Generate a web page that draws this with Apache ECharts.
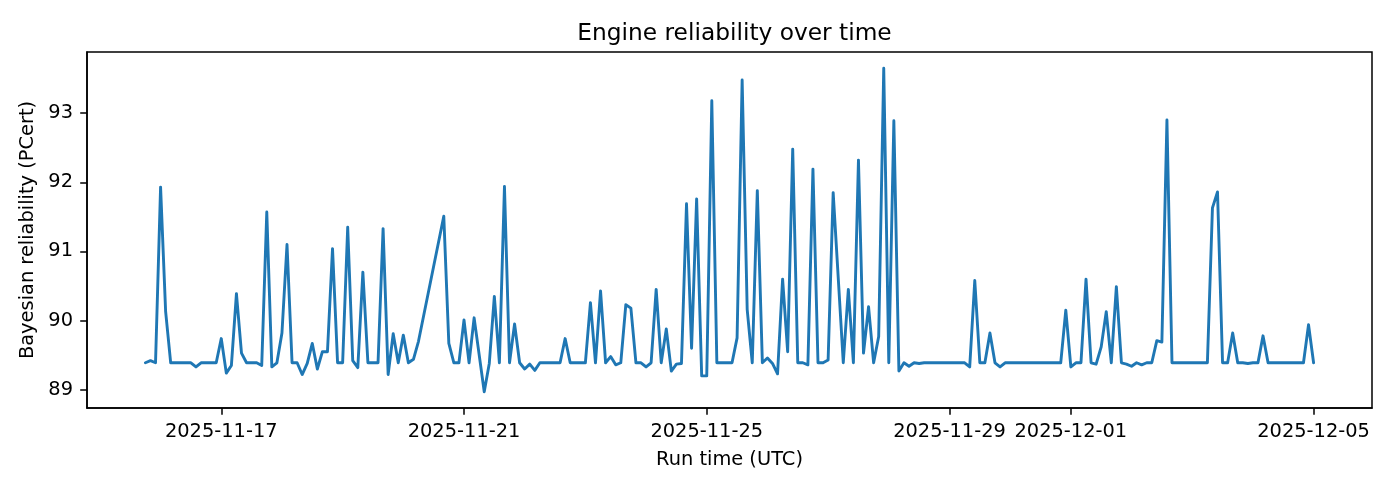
<!DOCTYPE html>
<html>
<head>
<meta charset="utf-8">
<title>Engine reliability over time</title>
<script src="https://cdn.jsdelivr.net/npm/echarts@6.0.0/dist/echarts.min.js"></script>
<style>
  html, body { margin: 0; padding: 0; background: #fff; }
  #chart { width: 1400px; height: 490px; }
</style>
</head>
<body>
<div id="chart"></div>
<script>
// ---- data ----
const runTimes = [
  '2025-11-15T18:00Z','2025-11-15T20:00Z','2025-11-15T22:00Z',
  '2025-11-16T00:00Z','2025-11-16T02:00Z','2025-11-16T04:00Z','2025-11-16T06:00Z','2025-11-16T08:00Z','2025-11-16T10:00Z','2025-11-16T12:00Z','2025-11-16T14:00Z','2025-11-16T16:00Z','2025-11-16T18:00Z','2025-11-16T20:00Z','2025-11-16T22:00Z',
  '2025-11-17T00:00Z','2025-11-17T02:00Z','2025-11-17T04:00Z','2025-11-17T06:00Z','2025-11-17T08:00Z','2025-11-17T10:00Z','2025-11-17T12:00Z','2025-11-17T14:00Z','2025-11-17T16:00Z','2025-11-17T18:00Z','2025-11-17T20:00Z','2025-11-17T22:00Z',
  '2025-11-18T00:00Z','2025-11-18T02:00Z','2025-11-18T04:00Z','2025-11-18T06:00Z','2025-11-18T08:00Z','2025-11-18T10:00Z','2025-11-18T12:00Z','2025-11-18T14:00Z','2025-11-18T16:00Z','2025-11-18T18:00Z','2025-11-18T20:00Z','2025-11-18T22:00Z',
  '2025-11-19T00:00Z','2025-11-19T02:00Z','2025-11-19T04:00Z','2025-11-19T06:00Z','2025-11-19T08:00Z','2025-11-19T10:00Z','2025-11-19T12:00Z','2025-11-19T14:00Z','2025-11-19T16:00Z','2025-11-19T18:00Z','2025-11-19T20:00Z','2025-11-19T22:00Z',
  '2025-11-20T00:00Z','2025-11-20T02:00Z','2025-11-20T04:00Z','2025-11-20T06:00Z','2025-11-20T16:00Z','2025-11-20T18:00Z','2025-11-20T20:00Z','2025-11-20T22:00Z',
  '2025-11-21T00:00Z','2025-11-21T02:00Z','2025-11-21T04:00Z','2025-11-21T08:00Z','2025-11-21T10:00Z','2025-11-21T12:00Z','2025-11-21T14:00Z','2025-11-21T16:00Z','2025-11-21T18:00Z','2025-11-21T20:00Z','2025-11-21T22:00Z',
  '2025-11-22T00:00Z','2025-11-22T02:00Z','2025-11-22T04:00Z','2025-11-22T06:00Z','2025-11-22T08:00Z','2025-11-22T10:00Z','2025-11-22T12:00Z','2025-11-22T14:00Z','2025-11-22T16:00Z','2025-11-22T18:00Z','2025-11-22T20:00Z','2025-11-22T22:00Z',
  '2025-11-23T00:00Z','2025-11-23T02:00Z','2025-11-23T04:00Z','2025-11-23T06:00Z','2025-11-23T08:00Z','2025-11-23T10:00Z','2025-11-23T12:00Z','2025-11-23T14:00Z','2025-11-23T16:00Z','2025-11-23T18:00Z','2025-11-23T20:00Z','2025-11-23T22:00Z',
  '2025-11-24T00:00Z','2025-11-24T02:00Z','2025-11-24T04:00Z','2025-11-24T06:00Z','2025-11-24T08:00Z','2025-11-24T10:00Z','2025-11-24T12:00Z','2025-11-24T14:00Z','2025-11-24T16:00Z','2025-11-24T18:00Z','2025-11-24T20:00Z','2025-11-24T22:00Z',
  '2025-11-25T00:00Z','2025-11-25T02:00Z','2025-11-25T04:00Z','2025-11-25T06:00Z','2025-11-25T08:00Z','2025-11-25T10:00Z','2025-11-25T12:00Z','2025-11-25T14:00Z','2025-11-25T16:00Z','2025-11-25T18:00Z','2025-11-25T20:00Z','2025-11-25T22:00Z',
  '2025-11-26T00:00Z','2025-11-26T02:00Z','2025-11-26T04:00Z','2025-11-26T06:00Z','2025-11-26T08:00Z','2025-11-26T10:00Z','2025-11-26T12:00Z','2025-11-26T14:00Z','2025-11-26T16:00Z','2025-11-26T18:00Z','2025-11-26T20:00Z','2025-11-26T22:00Z',
  '2025-11-27T00:00Z','2025-11-27T02:00Z','2025-11-27T06:00Z','2025-11-27T08:00Z','2025-11-27T10:00Z','2025-11-27T12:00Z','2025-11-27T14:00Z','2025-11-27T16:00Z','2025-11-27T18:00Z','2025-11-27T20:00Z','2025-11-27T22:00Z',
  '2025-11-28T00:00Z','2025-11-28T02:00Z','2025-11-28T04:00Z','2025-11-28T06:00Z','2025-11-28T08:00Z','2025-11-28T10:00Z','2025-11-28T12:00Z','2025-11-28T14:00Z','2025-11-28T16:00Z','2025-11-28T18:00Z','2025-11-28T20:00Z','2025-11-28T22:00Z',
  '2025-11-29T00:00Z','2025-11-29T02:00Z','2025-11-29T04:00Z','2025-11-29T06:00Z','2025-11-29T08:00Z','2025-11-29T10:00Z','2025-11-29T12:00Z','2025-11-29T14:00Z','2025-11-29T16:00Z','2025-11-29T18:00Z','2025-11-29T20:00Z','2025-11-29T22:00Z',
  '2025-11-30T00:00Z','2025-11-30T02:00Z','2025-11-30T04:00Z','2025-11-30T06:00Z','2025-11-30T08:00Z','2025-11-30T10:00Z','2025-11-30T12:00Z','2025-11-30T14:00Z','2025-11-30T16:00Z','2025-11-30T18:00Z','2025-11-30T20:00Z','2025-11-30T22:00Z',
  '2025-12-01T00:00Z','2025-12-01T02:00Z','2025-12-01T04:00Z','2025-12-01T06:00Z','2025-12-01T08:00Z','2025-12-01T10:00Z','2025-12-01T12:00Z','2025-12-01T14:00Z','2025-12-01T16:00Z','2025-12-01T18:00Z','2025-12-01T20:00Z','2025-12-01T22:00Z',
  '2025-12-02T00:00Z','2025-12-02T02:00Z','2025-12-02T04:00Z','2025-12-02T06:00Z','2025-12-02T08:00Z','2025-12-02T10:00Z','2025-12-02T12:00Z','2025-12-02T14:00Z','2025-12-02T16:00Z','2025-12-02T18:00Z','2025-12-02T20:00Z','2025-12-02T22:00Z',
  '2025-12-03T00:00Z','2025-12-03T02:00Z','2025-12-03T04:00Z','2025-12-03T06:00Z','2025-12-03T08:00Z','2025-12-03T10:00Z','2025-12-03T12:00Z','2025-12-03T14:00Z','2025-12-03T16:00Z','2025-12-03T18:00Z','2025-12-03T20:00Z','2025-12-03T22:00Z',
  '2025-12-04T00:00Z','2025-12-04T02:00Z','2025-12-04T04:00Z','2025-12-04T06:00Z','2025-12-04T08:00Z','2025-12-04T10:00Z','2025-12-04T12:00Z','2025-12-04T14:00Z','2025-12-04T16:00Z','2025-12-04T18:00Z','2025-12-04T20:00Z','2025-12-04T22:00Z',
  '2025-12-05T00:00Z'
];

const reliability = [
  89.39, 89.42, 89.39,
  91.93, 90.13, 89.39, 89.39, 89.39, 89.39, 89.39, 89.33, 89.39, 89.39, 89.39, 89.39,
  89.74, 89.24, 89.35, 90.39, 89.53, 89.39, 89.39, 89.39, 89.35, 91.57, 89.33, 89.39,
  89.82, 91.10, 89.39, 89.39, 89.22, 89.38, 89.67, 89.30, 89.55, 89.55, 91.04, 89.39,
  89.39, 91.35, 89.42, 89.32, 90.70, 89.39, 89.39, 89.39, 91.33, 89.22, 89.81, 89.39,
  89.79, 89.39, 89.44, 89.70, 91.51, 89.67, 89.39, 89.39,
  90.01, 89.39, 90.04, 88.97, 89.38, 90.35, 89.39, 91.94, 89.39, 89.95, 89.39,
  89.30, 89.37, 89.28, 89.39, 89.39, 89.39, 89.39, 89.39, 89.74, 89.39, 89.39, 89.39,
  89.39, 90.26, 89.39, 90.43, 89.39, 89.48, 89.36, 89.39, 90.23, 90.18, 89.39, 89.39,
  89.33, 89.39, 90.45, 89.39, 89.88, 89.27, 89.37, 89.38, 91.69, 89.60, 91.76, 89.20,
  89.20, 93.18, 89.39, 89.39, 89.39, 89.39, 89.75, 93.48, 90.16, 89.39, 91.88, 89.39,
  89.46, 89.38, 89.23, 90.60, 89.55, 92.48, 89.39, 89.39, 89.36, 92.19, 89.39, 89.39,
  89.43, 91.85, 89.39, 90.45, 89.39, 92.32, 89.53, 90.20, 89.39, 89.77, 93.65,
  89.39, 92.89, 89.27, 89.39, 89.34, 89.39, 89.38, 89.39, 89.39, 89.39, 89.39, 89.39,
  89.39, 89.39, 89.39, 89.39, 89.33, 90.58, 89.39, 89.39, 89.82, 89.39, 89.33, 89.39,
  89.39, 89.39, 89.39, 89.39, 89.39, 89.39, 89.39, 89.39, 89.39, 89.39, 89.39, 90.15,
  89.33, 89.39, 89.39, 90.60, 89.39, 89.37, 89.62, 90.13, 89.39, 90.49, 89.39, 89.37,
  89.34, 89.39, 89.36, 89.39, 89.39, 89.71, 89.69, 92.90, 89.39, 89.39, 89.39, 89.39,
  89.39, 89.39, 89.39, 89.39, 91.63, 91.86, 89.39, 89.39, 89.82, 89.39, 89.39, 89.38,
  89.39, 89.39, 89.78, 89.39, 89.39, 89.39, 89.39, 89.39, 89.39, 89.39, 89.39, 89.94,
  89.39
];

const xTickLabels = ['2025-11-17', '2025-11-21', '2025-11-25', '2025-11-29', '2025-12-01', '2025-12-05'];
const yTicks = [89, 90, 91, 92, 93];

// ---- build chart ----
const times = runTimes.map(t => Date.parse(t));
const seriesData = times.map((t, i) => [t, reliability[i]]);
const xTickValues = xTickLabels.map(d => Date.parse(d + 'T00:00Z'));

// matplotlib-like 5% data margins
const tMin = Math.min(...times), tMax = Math.max(...times);
const vMin = Math.min(...reliability), vMax = Math.max(...reliability);
const tPad = (tMax - tMin) * 0.05, vPad = (vMax - vMin) * 0.05;

const FONT = 'DejaVu Sans';
const chart = echarts.init(document.getElementById('chart'), null, { renderer: 'canvas' });
chart.setOption({
  animation: false,
  backgroundColor: '#ffffff',
  title: {
    text: 'Engine reliability over time',
    left: 729.5,
    top: 17,
    textAlign: 'center',
    textStyle: { fontFamily: FONT, fontSize: 23.3, fontWeight: 'normal', color: '#000' }
  },
  grid: {
    left: 87, right: 28, top: 52, bottom: 82,
    show: true, borderColor: '#000', borderWidth: 1.5, backgroundColor: 'transparent'
  },
  xAxis: {
    type: 'value',
    min: tMin - tPad,
    max: tMax + tPad,
    name: 'Run time (UTC)',
    nameLocation: 'middle',
    nameGap: 42,
    nameTextStyle: { fontFamily: FONT, fontSize: 19.4, color: '#000' },
    axisLine: { show: true, lineStyle: { color: '#000', width: 1.5 } },
    axisTick: { show: true, inside: false, length: 6.8, customValues: xTickValues, lineStyle: { color: '#000', width: 1.5 } },
    axisLabel: {
      customValues: xTickValues,
      hideOverlap: false,
      margin: 14,
      fontFamily: FONT, fontSize: 19.4, color: '#000',
      formatter: v => new Date(v).toISOString().slice(0, 10)
    },
    splitLine: { show: false }
  },
  yAxis: {
    type: 'value',
    min: vMin - vPad,
    max: vMax + vPad,
    name: 'Bayesian reliability (PCert)',
    nameLocation: 'middle',
    nameRotate: 90,
    nameGap: 42,
    nameTextStyle: { fontFamily: FONT, fontSize: 19.4, color: '#000' },
    axisLine: { show: true, lineStyle: { color: '#000', width: 1.5 } },
    axisTick: { show: true, inside: false, length: 6.8, customValues: yTicks, lineStyle: { color: '#000', width: 1.5 } },
    axisLabel: {
      customValues: yTicks,
      margin: 14,
      fontFamily: FONT, fontSize: 19.4, color: '#000',
      formatter: v => String(v)
    },
    splitLine: { show: false }
  },
  series: [{
    type: 'line',
    data: seriesData,
    showSymbol: false,
    symbol: 'none',
    lineStyle: { color: '#1f77b4', width: 2.9, join: 'round', cap: 'round' },
    itemStyle: { color: '#1f77b4' }
  }]
});
</script>
</body>
</html>
